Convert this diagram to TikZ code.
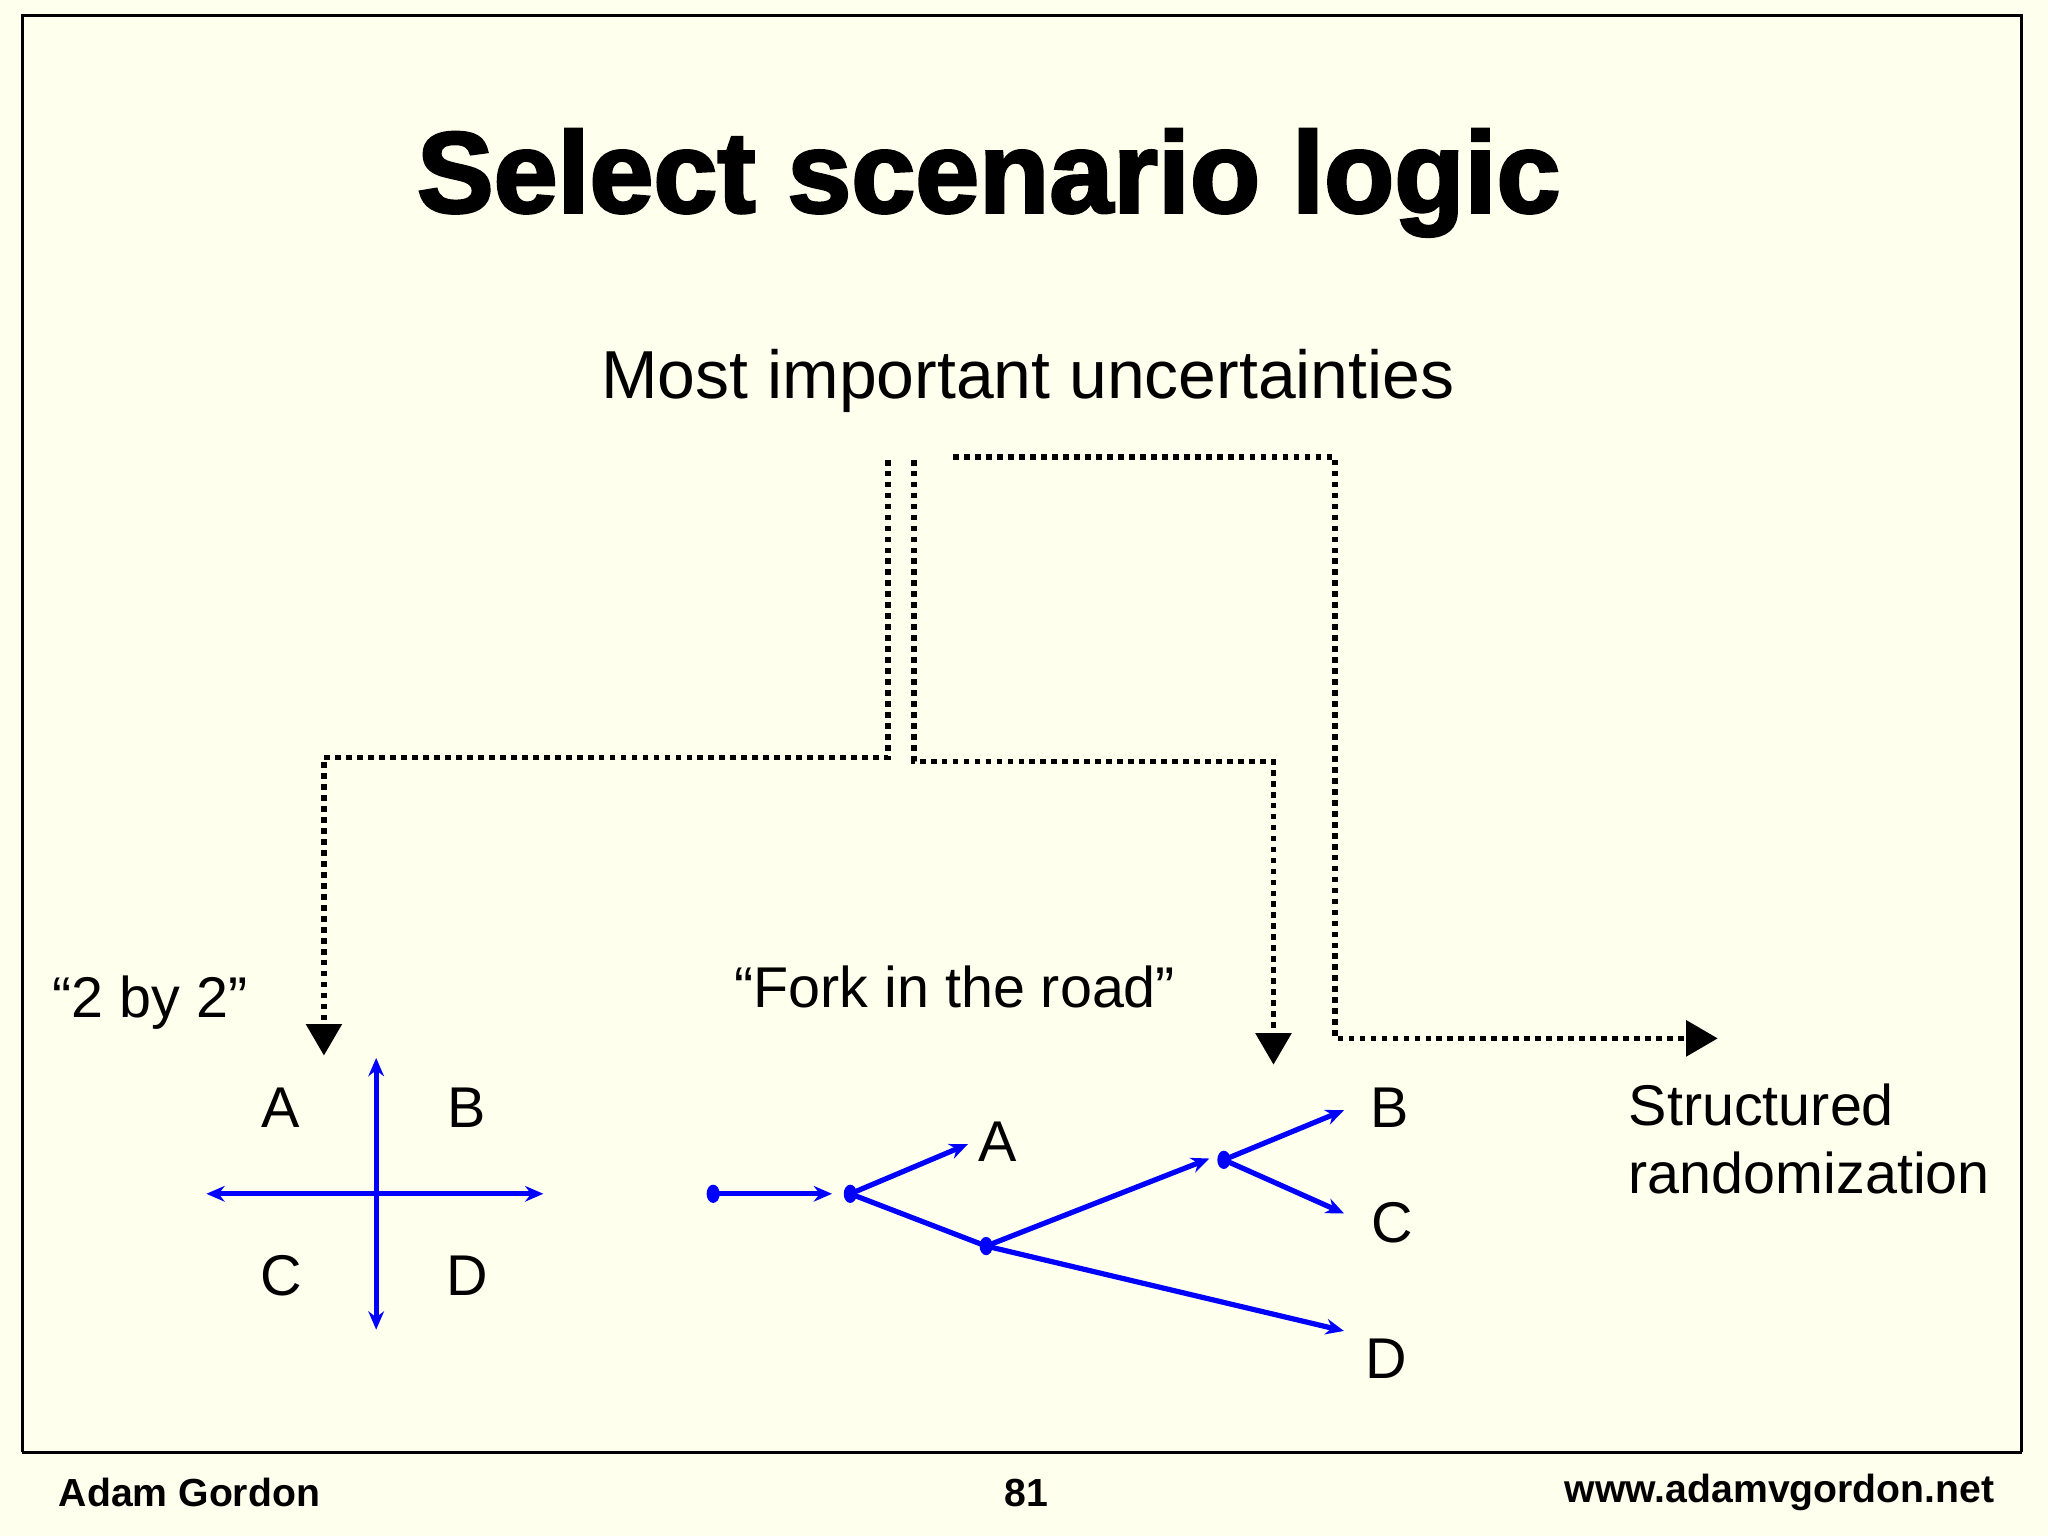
\documentclass[tikz,border=0pt]{standalone}
\usepackage{fontspec}
\setmainfont{Liberation Sans}
\newfontfamily\heavyfont[FakeBold=2.5]{Liberation Sans Bold}
\usetikzlibrary{arrows.meta}
\begin{document}
\begin{tikzpicture}[x=0.5pt,y=-0.5pt,
  dot/.style={line width=2.2pt,dotted,line cap=butt},
  dotarr/.style={dot,-{Triangle[width=14pt,length=12pt,line width=0pt]}},
  blu/.style={blue,line width=2pt},
  barr/.style={blu,-{Stealth[length=7pt,width=6pt]}},
  lab/.style={font=\fontsize{22}{26}\selectfont},
  foot/.style={font=\bfseries\fontsize{15}{18}\selectfont}]
\fill[fill={rgb,255:red,255;green,255;blue,238}] (0,0) rectangle (1568,1176);
\useasboundingbox (0,0) rectangle (1568,1176);
\draw[line width=1.2pt] (17,1112) -- (17,12) -- (1548,12) -- (1548,1112);
\draw[line width=1.2pt] (17,1112) -- (1548,1112);
\node (title) at (757,140) {\heavyfont\fontsize{44}{50}\selectfont Select scenario logic};
\node[font=\fontsize{26}{30}\selectfont] (mi) at (787,292) {Most important uncertainties};
\coordinate (s1) at (680,352); \coordinate (s2) at (700,352); \coordinate (s3) at (730,350);
\coordinate (t1) at (248,808); \coordinate (t2) at (975,815); \coordinate (t3) at (1315,795);
\draw[dotarr] (s1) |- (248,580) -- (t1);
\draw[dotarr] (s2) |- (975,583) -- (t2);
\draw[dotarr] (s3) -| (1022,795) -- (t3);
\node[lab] (tb) at (115,768) {``2 by 2''};
\node[lab] (fk) at (731,756) {``Fork in the road''};
\node[lab,align=left,anchor=west] (sr) at (1240,872) {Structured\\randomization};
% 2 by 2
\coordinate (hl) at (158,914); \coordinate (hr) at (416,914);
\coordinate (vt) at (288,810); \coordinate (vb) at (288,1018);
\draw[blu,{Stealth[length=7pt,width=6pt]}-{Stealth[length=7pt,width=6pt]}] (hl) -- (hr);
\draw[blu,{Stealth[length=7pt,width=6pt]}-{Stealth[length=7pt,width=6pt]}] (vt) -- (vb);
\node[lab] (A1) at (215,848) {A};
\node[lab] (B1) at (357,848) {B};
\node[lab] (C1) at (215,977) {C};
\node[lab] (D1) at (358,977) {D};
% fork
\coordinate (p0) at (546,914); \coordinate (p1) at (651,914);
\coordinate (p2) at (755,954); \coordinate (p3) at (937,888);
\foreach \p in {p0,p1,p2,p3} \fill[blue] (\p) ellipse (5 and 7);
\coordinate (eA) at (741,876); \coordinate (eB) at (1029,850);
\coordinate (eC) at (1029,929); \coordinate (eD) at (1029,1019);
\draw[barr] (p0) -- (637,914);
\draw[barr] (p1) -- (eA);
\draw[blu] (p1) -- (p2);
\draw[barr] (p2) -- (926,887);
\draw[barr] (p2) -- (eD);
\draw[barr] (p3) -- (eB);
\draw[barr] (p3) -- (eC);
\node[lab] (A2) at (764,874) {A};
\node[lab] (B2) at (1064,848) {B};
\node[lab] (C2) at (1066,936) {C};
\node[lab] (D2) at (1061,1040) {D};
\node[foot,anchor=west] (f1) at (38,1143) {Adam Gordon};
\node[foot] (f2) at (786,1143) {81};
\node[foot,anchor=east] (f3) at (1534,1143) {www.adamvgordon.net};
\end{tikzpicture}
\end{document}
